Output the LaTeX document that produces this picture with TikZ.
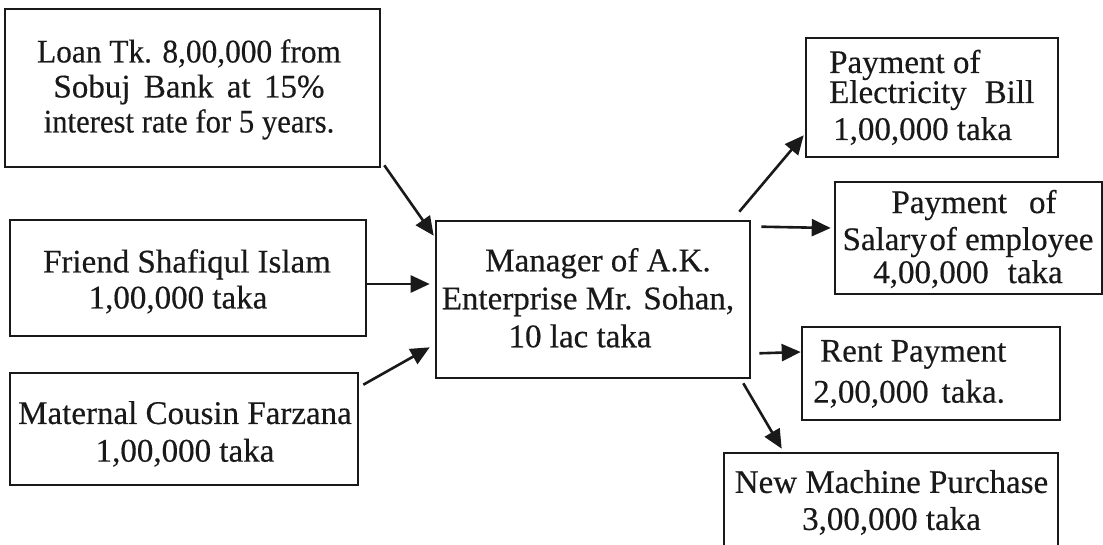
\documentclass[tikz,border=0pt]{standalone}
\usepackage{fontspec}
\setmainfont{Liberation Serif}[FakeBold=0.4]
\usetikzlibrary{arrows.meta,calc}
\begin{document}
\begin{tikzpicture}[x=1pt,y=-1pt,
  box/.style={draw=black!90,line width=2.6pt,rectangle,inner sep=0pt},
  txt/.style={inner sep=0pt,text=black!90},
  arr/.style={draw=black!90,line width=2.6pt,-{Triangle[length=19pt,width=17pt]}}]
\clip (0,0) rectangle (1103,544);
% boxes
\node[box,minimum width=375pt,minimum height=158pt] (loan) at (192.5,88) {};
\node[box,minimum width=356pt,minimum height=116pt] (friend) at (188,278) {};
\node[box,minimum width=348pt,minimum height=112pt] (maternal) at (184,429) {};
\node[box,minimum width=314pt,minimum height=157pt] (manager) at (593,299.5) {};
\node[box,minimum width=252pt,minimum height=119pt] (elec) at (932,97.5) {};
\node[box,minimum width=267pt,minimum height=112pt] (salary) at (968.5,238) {};
\node[box,minimum width=258pt,minimum height=93pt] (rent) at (931,373.5) {};
\node[box,minimum width=334pt,minimum height=110pt] (machine) at (891,508) {};
% texts
\node[txt,align=center,font=\fontsize{33}{35}\selectfont] (tloan) at (189,89.4)
  {\scalebox{0.95}[1]{Loan Tk. 8,00,000 from}\\
   \makebox[271pt][s]{Sobuj Bank at 15\%}\\
   \scalebox{0.93}[1]{interest rate for 5 years.}};
\node[txt,align=center,font=\fontsize{33}{36}\selectfont] (tfriend) at (187,281.4)
  {Friend Shafiqul Islam\\1,00,000 taka\hspace*{18pt}};
\node[txt,align=center,font=\fontsize{33}{37.7}\selectfont] (tmaternal) at (185,433.9)
  {Maternal Cousin Farzana\\1,00,000 taka};
\node[txt,align=center,font=\fontsize{33}{38}\selectfont] (tmanager) at (588,297.8)
  {\hspace*{20pt}Manager of A.K.\\Enterprise Mr. Sohan,\\10 lac taka\hspace*{16pt}};
\node[txt,align=left,anchor=west,font=\fontsize{33}{37}\selectfont] (telec) at (829,97.4)
  {Payment of\\[-7pt]Electricity\hspace{18pt}Bill\\\hspace*{4pt}1,00,000 taka};
\node[txt,align=center,font=\fontsize{33}{37}\selectfont] (tsalary) at (968,239)
  {\hspace*{12pt}Payment\hspace{22pt}of\\Salary\hspace{2.5pt}of employee\\[-4pt]4,00,000\hspace{19pt}taka};
\node[txt,align=left,anchor=west,font=\fontsize{33}{41}\selectfont] (trent) at (813,373.9)
  {\hspace*{7pt}Rent Payment\\2,00,000\hspace{13pt}taka.};
\node[txt,align=center,font=\fontsize{33}{37}\selectfont] (tmachine) at (891.5,502.5)
  {New Machine Purchase\\3,00,000 taka};
% incoming arrows
\draw[arr] ($(loan.south east)+(3,-3)$) -- ($(manager.north west)+(-1,16)$);
\draw[arr] ($(friend.east)+(0,6)$) -- ($(manager.west)+(-5,-15.5)$);
\draw[arr] ($(maternal.north east)+(4,13)$) -- ($(manager.south west)+(-5,-32)$);
% outgoing arrows
\draw[arr] ($(manager.north east)+(-12,-8)$) -- ($(elec.south west)+(-1,-23)$);
\draw[arr] ($(manager.north east)+(10,7)$) -- ($(salary.west)+(-3,-10)$);
\draw[arr] ($(manager.south east)+(8,-26)$) -- ($(rent.west)+(0,-21.5)$);
\draw[arr] ($(manager.south east)+(-8,4)$) -- ($(machine.north west)+(59,-3)$);
\end{tikzpicture}
\end{document}
